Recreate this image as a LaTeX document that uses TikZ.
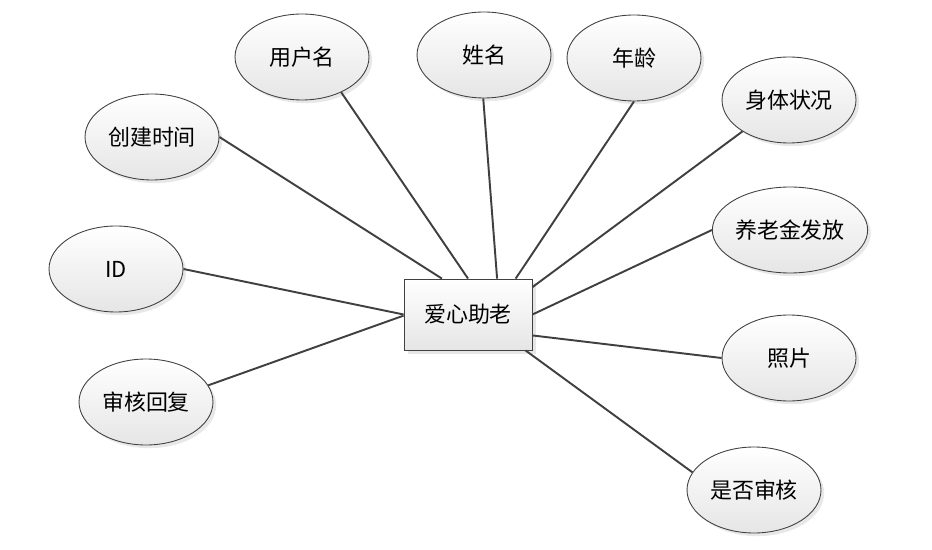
\documentclass[tikz,border=0pt]{standalone}
\usepackage{fontspec}
\setmainfont{Noto Sans CJK SC}
\usepackage{tikz}
\usetikzlibrary{shapes.geometric,shadows}

\begin{document}
\begin{tikzpicture}[x=0.02cm, y=-0.02cm,
  attr/.style={ellipse, draw=black!75, line width=0.5pt, top color=white, bottom color=black!10, minimum width=2.68cm, minimum height=1.72cm, inner sep=0pt, font=\fontsize{12.5}{15}\selectfont, drop shadow={shadow xshift=1.8pt, shadow yshift=-1.8pt, opacity=0.18}},
  entity/.style={rectangle, draw=black!75, line width=0.5pt, top color=white, bottom color=black!10, minimum width=2.56cm, minimum height=1.42cm, font=\fontsize{12.5}{15}\selectfont, drop shadow={shadow xshift=2pt, shadow yshift=-2pt, opacity=0.2}},
  link/.style={draw=black!75, line width=1.1pt}]
\useasboundingbox (0,0) rectangle (932,550);
\node[entity] (main) at (468,314.5) {爱心助老};
\node[attr] (user) at (302,57) {用户名};
\node[attr] (name) at (484,55) {姓名};
\node[attr] (age) at (634,58) {年龄};
\node[attr] (health) at (789,100) {身体状况};
\node[attr] (ctime) at (152,137) {创建时间};
\node[attr] (pension) at (790,230) {养老金发放};
\node[attr] (id) at (116,269) {ID};
\node[attr] (photo) at (789,358) {照片};
\node[attr] (reply) at (146,402) {审核回复};
\node[attr] (audit) at (754,490) {是否审核};
\draw[link] (ctime.0) -- (main.126);
\draw[link] (user.-42) -- (main.90);
\draw[link] (name.-91) -- (main.51);
\draw[link] (age.-90) -- (main.37);
\draw[link] (health.-146) -- (main.23);
\draw[link] (pension.180) -- (main.0);
\draw[link] (photo.180) -- (main.-18);
\draw[link] (audit.164) -- (main.-32);
\draw[link] (id.0) -- (main.180);
\draw[link] (reply.15) -- (main.181);
\end{tikzpicture}
\end{document}
